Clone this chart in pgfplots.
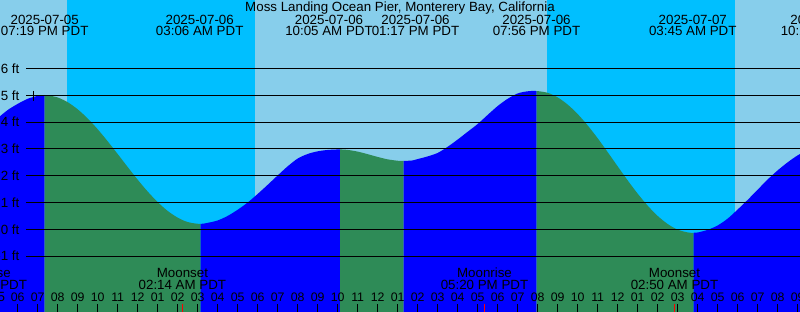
\documentclass[border=0pt]{standalone}
\usepackage{fontspec}
\setmainfont{Liberation Sans}
\usepackage{pgfplots}
\pgfplotsset{compat=1.18}
\usepgfplotslibrary{fillbetween}
\definecolor{daysky}{HTML}{87CEEB}
\definecolor{nightsky}{HTML}{00BFFF}
\definecolor{tideblue}{HTML}{0000FF}
\definecolor{tidegreen}{HTML}{2E8B57}
\newcommand\lf{\fontsize{9.25}{11}\selectfont}
\begin{document}
\begin{tikzpicture}
\begin{axis}[
  set layers=axis on top,
  scale only axis, width=600pt, height=234pt,
  xmin=-6.885, xmax=33.115, ymin=-3.086, ymax=8.556,
  axis line style={draw=none},
  tick pos=left, tick align=inside,
  ytick=\empty,
  xtick={-6,...,33},
  xticklabels={06,07,08,09,10,11,12,01,02,03,04,05,06,07,08,09,10,11,12,01,02,03,04,05,06,07,08,09,10,11,12,01,02,03,04,05,06,07,08,09},
  xticklabel style={font=\lf, anchor=base, yshift=7.7pt, inner sep=0pt},
  major tick length=6pt,
  xtick style={black, line width=0.75pt},
  extra x ticks={0,24}, extra x tick labels={},
  extra x tick style={major tick style={black, line width=2.25pt}},
  every node/.style={font=\lf, inner sep=0pt},
]
% day / night background
\addplot[fill=daysky, draw=none, on layer=axis background] coordinates {(-8,-4) (35,-4) (35,9) (-8,9)};
\addplot[fill=nightsky, draw=none, on layer=axis background] coordinates {(-3.535,-4) (5.865,-4) (5.865,9) (-3.535,9)};
\addplot[fill=nightsky, draw=none, on layer=axis background] coordinates {(20.465,-4) (29.865,-4) (29.865,9) (20.465,9)};

% tide curve (ft)
\addplot[name path=tide, draw=none, smooth] coordinates {
(-7.2,4.05) (-7,4.15) (-6.5,4.45) (-6,4.68) (-5.5,4.87) (-5,4.98) (-4.683,5.01)
(-4.5,5.00) (-4,4.919) (-3.5,4.741) (-3,4.476) (-2.5,4.135) (-2,3.732) (-1.5,3.283) (-1,2.807)
(-0.5,2.323) (0,1.849) (0.5,1.407) (1,1.015) (1.5,0.684) (2,0.435) (2.5,0.270) (3.10,0.20)
(3.5,0.24) (4,0.33) (4.5,0.50) (5,0.73) (5.5,1.0) (6,1.32) (6.5,1.66) (7,2.01) (7.5,2.35)
(8,2.64) (8.5,2.81) (9,2.91) (9.5,2.96) (10.083,2.98)
(10.5,2.962) (11,2.899) (11.5,2.803) (12,2.699) (12.5,2.610) (13,2.558) (13.283,2.55)
(13.75,2.57) (14,2.62) (14.5,2.72) (15,2.85) (15.5,3.08) (16,3.35) (16.5,3.64) (17,3.93)
(17.5,4.27) (18,4.60) (18.5,4.87) (19,5.07) (19.5,5.15) (19.933,5.16)
(20.5,5.092) (21,4.921) (21.5,4.652) (22,4.299) (22.5,3.873) (23,3.395) (23.5,2.877) (24,2.347)
(24.5,1.823) (25,1.328) (25.5,0.880) (26,0.497) (26.5,0.196) (27,-0.014) (27.5,-0.117) (27.75,-0.13)
(28,-0.119) (28.5,-0.02) (29,0.144) (29.5,0.40) (30,0.74) (30.5,1.10) (31,1.48) (31.5,1.86)
(32,2.2) (32.5,2.50) (33,2.76) (33.5,2.95) (34,3.05)};
\addplot[name path=bot, draw=none] coordinates {(-8,-3.3) (35,-3.3)};

\addplot[tideblue] fill between[of=tide and bot, soft clip={domain=-8:-4.66}];
\addplot[tidegreen] fill between[of=tide and bot, soft clip={domain=-4.66:3.15}];
\addplot[tideblue] fill between[of=tide and bot, soft clip={domain=3.15:10.115}];
\addplot[tidegreen] fill between[of=tide and bot, soft clip={domain=10.115:13.3}];
\addplot[tideblue] fill between[of=tide and bot, soft clip={domain=13.3:19.95}];
\addplot[tidegreen] fill between[of=tide and bot, soft clip={domain=19.95:27.8}];
\addplot[tideblue] fill between[of=tide and bot, soft clip={domain=27.8:35}];

% horizontal reference lines
\addplot[black, line width=0.75pt] coordinates {(-5.585,6) (34,6)};
\addplot[black, line width=0.75pt] coordinates {(-5.585,5) (34,5)};
\addplot[black, line width=0.75pt] coordinates {(-5.585,4) (34,4)};
\addplot[black, line width=0.75pt] coordinates {(-5.585,3) (34,3)};
\addplot[black, line width=0.75pt] coordinates {(-5.585,2) (34,2)};
\addplot[black, line width=0.75pt] coordinates {(-5.585,1) (34,1)};
\addplot[black, line width=0.75pt] coordinates {(-5.585,0) (34,0)};
\addplot[black, line width=0.75pt] coordinates {(-5.585,-1) (34,-1)};

% current-time marker
\addplot[only marks, mark=+, mark size=3.75pt, line width=1pt, black] coordinates {(-5.22,4.98)};

% moon event ticks
\addplot[red, line width=0.75pt] coordinates {(2.235,-3.2) (2.235,-2.787)};
\addplot[red, line width=0.75pt] coordinates {(17.34,-3.2) (17.34,-2.787)};
\addplot[red, line width=0.75pt] coordinates {(26.84,-3.2) (26.84,-2.787)};

% y labels
\node[anchor=east] at (axis cs:-5.685,6) {6 ft};
\node[anchor=east] at (axis cs:-5.685,5) {5 ft};
\node[anchor=east] at (axis cs:-5.685,4) {4 ft};
\node[anchor=east] at (axis cs:-5.685,3) {3 ft};
\node[anchor=east] at (axis cs:-5.685,2) {2 ft};
\node[anchor=east] at (axis cs:-5.685,1) {1 ft};
\node[anchor=east] at (axis cs:-5.685,0) {0 ft};
\node[anchor=east] at (axis cs:-5.685,-1) {-1 ft};

% title
\node[anchor=base] at (axis cs:13.115,8.119) {Moss Landing Ocean Pier, Monterery Bay, California};

% tide event labels
\node[anchor=base] at (axis cs:-4.65,7.660) {2025-07-05};
\node[anchor=base] at (axis cs:-4.65,7.224) {07:19 PM PDT};
\node[anchor=base] at (axis cs:3.1,7.660) {2025-07-06};
\node[anchor=base] at (axis cs:3.1,7.224) {03:06 AM PDT};
\node[anchor=base] at (axis cs:9.565,7.660) {2025-07-06};
\node[anchor=base] at (axis cs:9.565,7.224) {10:05 AM PDT};
\node[anchor=base] at (axis cs:13.89,7.660) {2025-07-06};
\node[anchor=base] at (axis cs:13.89,7.224) {01:17 PM PDT};
\node[anchor=base] at (axis cs:19.94,7.660) {2025-07-06};
\node[anchor=base] at (axis cs:19.94,7.224) {07:56 PM PDT};
\node[anchor=base] at (axis cs:27.755,7.660) {2025-07-07};
\node[anchor=base] at (axis cs:27.755,7.224) {03:45 AM PDT};
\node[anchor=base] at (axis cs:34.34,7.660) {2025-07-07};
\node[anchor=base] at (axis cs:34.34,7.224) {10:20 AM PDT};

% moon labels
\node[anchor=base] at (axis cs:-7.72,-1.791) {Moonrise};
\node[anchor=base] at (axis cs:-7.72,-2.265) {04:17 PM PDT};
\node[anchor=base] at (axis cs:2.235,-1.791) {Moonset};
\node[anchor=base] at (axis cs:2.235,-2.265) {02:14 AM PDT};
\node[anchor=base] at (axis cs:17.34,-1.791) {Moonrise};
\node[anchor=base] at (axis cs:17.34,-2.265) {05:20 PM PDT};
\node[anchor=base] at (axis cs:26.84,-1.791) {Moonset};
\node[anchor=base] at (axis cs:26.84,-2.265) {02:50 AM PDT};
\node[anchor=base] at (axis cs:-7,-2.701) {05};

\coordinate (SW) at (rel axis cs:0,0);
\coordinate (NE) at (rel axis cs:1,1);
\end{axis}
\pgfresetboundingbox
\path[use as bounding box] (SW) rectangle (NE);
\end{tikzpicture}
\end{document}
